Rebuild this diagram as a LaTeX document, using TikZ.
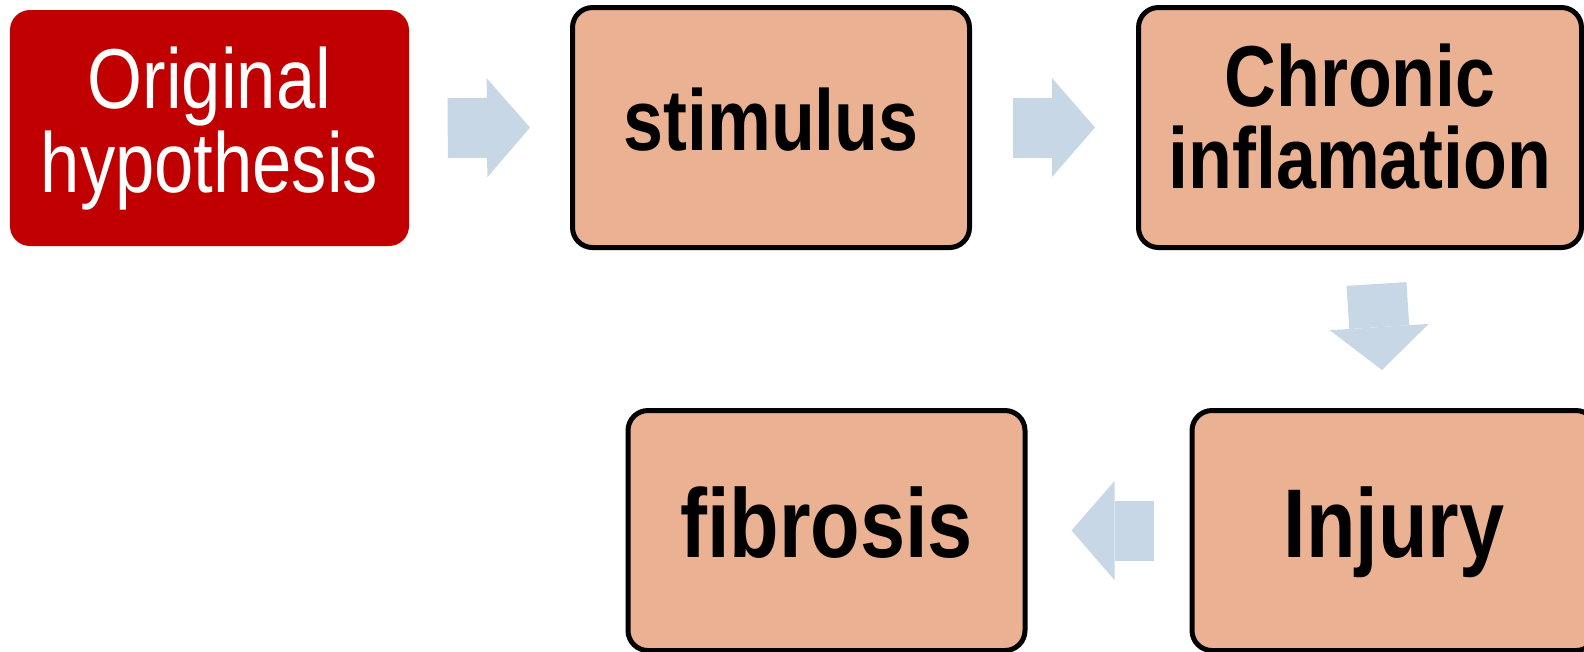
\documentclass[tikz,border=0pt]{standalone}
\usepackage{fontspec}
\setmainfont{Liberation Sans}
\newfontfamily\boxfont[FakeStretch=0.83]{Liberation Sans}
\usetikzlibrary{arrows.meta}
\definecolor{hyred}{RGB}{192,0,0}
\definecolor{stagefill}{RGB}{235,177,147}
\definecolor{flowblue}{RGB}{200,215,229}

\begin{document}
\begin{tikzpicture}[
  hypo/.style={fill=hyred, rounded corners=0.2cm, minimum width=3.99cm, minimum height=2.36cm,
    inner sep=0pt, align=center, text=white, font=\boxfont\fontsize{24.2}{23.9}\selectfont},
  stage/.style={draw=black, line width=0.05cm, fill=stagefill, rounded corners=0.2cm,
    minimum width=3.97cm, minimum height=2.40cm, inner sep=0pt, align=center},
  small/.style={font=\boxfont\bfseries\fontsize{24.6}{23.3}\selectfont},
  large/.style={font=\boxfont\bfseries\fontsize{27.8}{27}\selectfont},
  lift/.style={text depth=0.16cm},
  flow/.style={draw=flowblue, line width=0.6cm,
    -{Triangle[length=0.43cm, width=0.99cm, line width=0pt]}}
]
\useasboundingbox (0,0) rectangle (15.84,-6.51);
\clip (0,0) rectangle (15.84,-6.51);

\node[hypo] (orig) at (2.095,-1.28) {Original\\hypothesis};
\node[stage, small, lift] (stim) at (7.71,-1.275) {stimulus};
\node[stage, small, text depth=0.22cm, minimum width=4.43cm] (chron) at (13.60,-1.275) {Chronic\\inflamation};
\node[stage, large, lift, minimum width=4.04cm] (inj) at (13.94,-5.305) {Injury};
\node[stage, large, lift] (fib) at (8.265,-5.305) {fibrosis};

\draw[flow] ([xshift=0.38cm]orig.east) -- ([xshift=-0.4cm]stim.west);
\draw[flow] ([xshift=0.41cm]stim.east) -- ([xshift=-0.41cm]chron.west);
\draw[flow] ([xshift=0.165cm, yshift=-0.34cm]chron.south) -- ([xshift=-0.12cm, yshift=0.38cm]inj.north);
\draw[flow] ([xshift=-0.36cm]inj.west) -- ([xshift=0.44cm]fib.east);
\end{tikzpicture}
\end{document}
